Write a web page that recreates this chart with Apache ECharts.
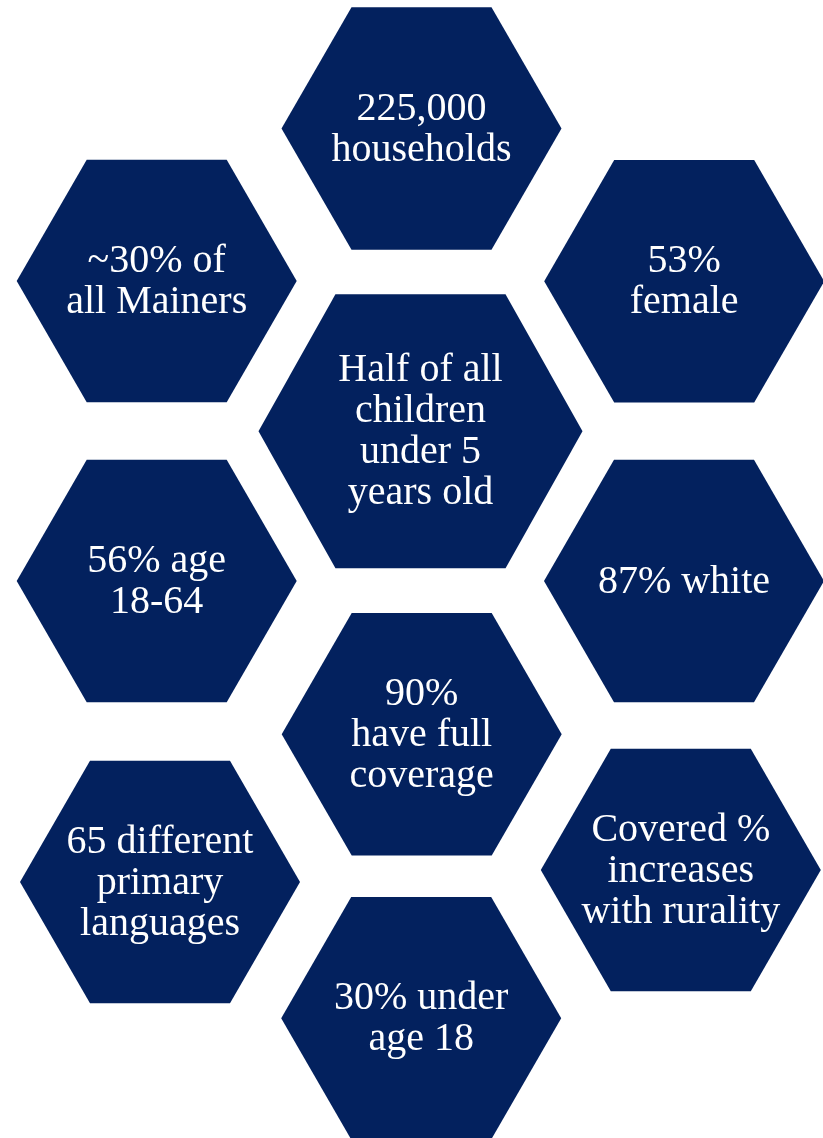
<!DOCTYPE html>
<html lang="en">
<head>
    <meta charset="UTF-8"/>
    <script src="https://cdn.jsdelivr.net/npm/echarts@6/dist/echarts.min.js"></script>
    <title>Hexagon facts</title>
    <style>
        html, body { margin: 0; padding: 0; background: #ffffff; }
    </style>
</head>
<body>
<div id="main" style="width: 823px;height:1138px;"></div>
<script type="text/javascript">
    // facts shown in each hexagon
    var labels = [
        '225,000\nhouseholds',
        '~30% of\nall Mainers',
        '53%\nfemale',
        'Half of all\nchildren\nunder 5\nyears old',
        '56% age\n18-64',
        '87% white',
        '90%\nhave full\ncoverage',
        '65 different\nprimary\nlanguages',
        'Covered %\nincreases\nwith rurality',
        '30% under\nage 18'
    ];
    // hexagon centres in layout units (x across, y down)
    var colX = [421.5, 156.7, 684.2, 420.5, 156.7, 684, 421.7, 160, 680.8, 421.2];
    var rowY = [128.5, 281, 281.3, 431.3, 581, 581, 734.2, 882, 870, 1018.3];
    // the middle hexagon is drawn larger
    var isBig = [0, 0, 0, 1, 0, 0, 0, 0, 0, 0];

    var myChart = echarts.init(document.getElementById('main'));

    var data = labels.map(function (t, i) {
        return [colX[i], rowY[i], isBig[i], t];
    });

    function renderHex(params, api) {
        var c = api.coord([api.value(0), api.value(1)]);
        var big = api.value(2) === 1;
        var w = api.size([big ? 162 : 140, 0])[0];
        var h = api.size([0, big ? 137 : 121.2])[1];
        var t = w * (big ? 0.525 : 0.5);
        var pts = [
            [c[0] - t, c[1] - h],
            [c[0] + t, c[1] - h],
            [c[0] + w, c[1]],
            [c[0] + t, c[1] + h],
            [c[0] - t, c[1] + h],
            [c[0] - w, c[1]]
        ];
        return {
            type: 'group',
            children: [
                {
                    type: 'polygon',
                    shape: { points: pts },
                    style: { fill: '#03215E' }
                },
                {
                    type: 'text',
                    style: {
                        x: c[0],
                        y: c[1] + 1,
                        text: labels[params.dataIndex],
                        fill: '#ffffff',
                        fontSize: 40,
                        lineHeight: 41,
                        fontFamily: '"Liberation Serif", "Times New Roman", serif',
                        align: 'center',
                        verticalAlign: 'middle'
                    }
                }
            ]
        };
    }

    var option = {
        backgroundColor: '#ffffff',
        animation: false,
        grid: { left: 0, right: 0, top: 0, bottom: 0 },
        xAxis: {
            type: 'value', min: 0, max: 823, show: false
        },
        yAxis: {
            type: 'value', min: 0, max: 1138, inverse: true, show: false
        },
        series: [
            {
                type: 'custom',
                renderItem: renderHex,
                clip: false,
                data: data
            }
        ]
    };

    myChart.setOption(option);
</script>
</body>
</html>
